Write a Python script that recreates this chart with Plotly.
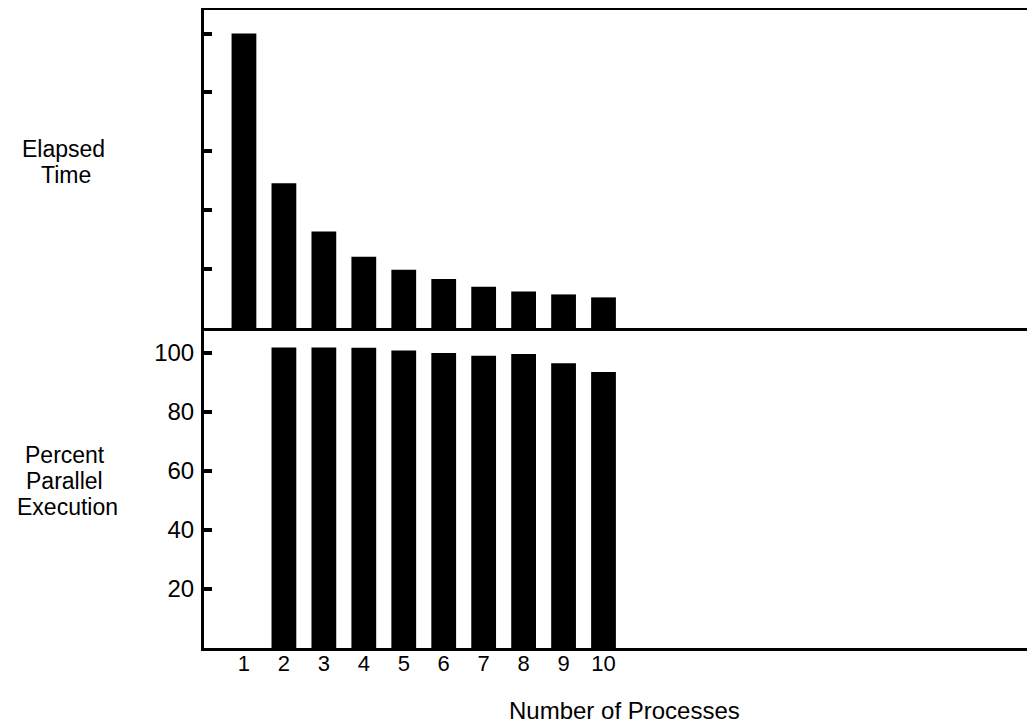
import plotly.graph_objects as go

# Data
processes = [1, 2, 3, 4, 5, 6, 7, 8, 9, 10]
elapsed_time = [5.0, 2.46, 1.64, 1.21, 0.99, 0.83, 0.70, 0.62, 0.57, 0.52]
parallel_procs = [2, 3, 4, 5, 6, 7, 8, 9, 10]
percent_parallel = [101.7, 101.7, 101.6, 100.7, 99.8, 98.9, 99.5, 96.4, 93.4]
pct_ticks = [20, 40, 60, 80, 100]
time_ticks = [1, 2, 3, 4, 5]

FONT = "Liberation Sans, Arial, Helvetica, sans-serif"
OFF = 8  # page body margin
W, H = 1035 - OFF, 725 - OFF
ML, MR, MT = 204 - OFF, 0, 10 - OFF
MB = H - (648 - OFF)
split = (648 - 328) / (648 - 10)

fig = go.Figure()
fig.add_trace(go.Bar(x=processes, y=elapsed_time, xaxis="x2", yaxis="y2",
                     marker=dict(color="black", line=dict(width=0)), width=0.62,
                     showlegend=False, hoverinfo="skip"))
fig.add_trace(go.Bar(x=parallel_procs, y=percent_parallel, xaxis="x", yaxis="y",
                     marker=dict(color="black", line=dict(width=0)), width=0.62,
                     showlegend=False, hoverinfo="skip"))

xrange = [0, 20.8]
fig.update_layout(
    width=W, height=H,
    margin=dict(l=ML, r=MR, t=MT, b=MB, pad=0),
    paper_bgcolor="white", plot_bgcolor="white",
    font=dict(family=FONT, color="black", size=22),
    xaxis=dict(domain=[0, 1], anchor="y", range=xrange, tickvals=processes,
               ticktext=[str(p) for p in processes], ticks="", showgrid=False,
               zeroline=False, showline=True, linecolor="black", linewidth=3,
               tickfont=dict(size=22), ticklabelstandoff=-6),
    yaxis=dict(domain=[0, split], anchor="x", range=[0, 108.3], tickvals=pct_ticks,
               ticks="inside", ticklen=8, tickwidth=4, tickcolor="black",
               showgrid=False, zeroline=False, showline=True, linecolor="black",
               linewidth=3, tickfont=dict(size=24), ticklabelstandoff=2),
    xaxis2=dict(domain=[0, 1], anchor="y2", range=xrange, showticklabels=False,
                ticks="", showgrid=False, zeroline=False, showline=True,
                mirror=True, linecolor="black", linewidth=3, matches="x"),
    yaxis2=dict(domain=[split, 1], anchor="x2", range=[0, 5.40], tickvals=time_ticks,
                showticklabels=False, ticks="inside", ticklen=8, tickwidth=4,
                tickcolor="black", showgrid=False, zeroline=False, showline=True,
                linecolor="black", linewidth=3),
    bargap=0.38,
)

def px_to_paper(px, py):
    # px, py are page pixel coordinates
    px -= OFF
    py -= OFF
    x = (px - ML) / (W - ML - MR)
    y = (H - MB - py) / (H - MB - MT)
    return x, y

labels = [
    ("Elapsed", 63, 149, 23),
    ("Time", 66, 175, 23),
    ("Percent", 65, 455, 23),
    ("Parallel", 64, 481, 23),
    ("Execution", 67, 507, 23),
    ("Number of Processes", 624, 711, 24),
]
for text, px, py, size in labels:
    x, y = px_to_paper(px, py)
    fig.add_annotation(text=text, x=x, y=y, xref="paper", yref="paper",
                       xanchor="center", yanchor="middle", showarrow=False,
                       font=dict(size=size, family=FONT, color="black"))

fig.write_html("out.html")
